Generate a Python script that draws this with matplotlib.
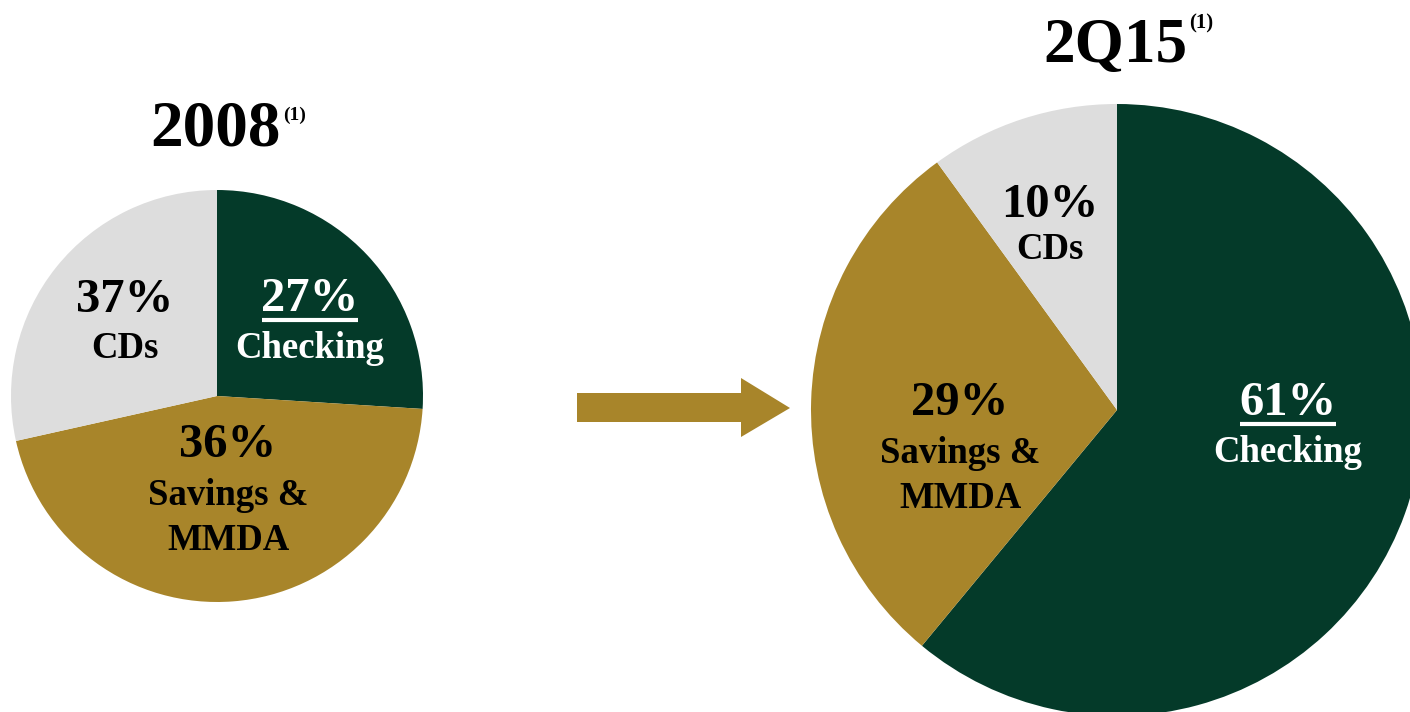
import matplotlib.pyplot as plt
from matplotlib.patches import Polygon

plt.rcParams['font.family'] = ['Liberation Serif', 'DejaVu Serif']

# data
categories = ["Checking", "Savings &\nMMDA", "CDs"]
labels_2008 = [27, 36, 37]
# the 2008 pie in the source is not drawn to its labels; these are the slice sizes as drawn
slices_2008 = [26, 45.5, 28.5]
share_2q15 = [61, 29, 10]
titles = ["2008", "2Q15"]
colors = ["#043a29", "#a8852a", "#dddddd"]
text_colors = ["white", "black", "black"]

W, H = 1410, 712
fig = plt.figure(figsize=(W / 100, H / 100), dpi=100)
ax = fig.add_axes([0, 0, 1, 1])

# pies (pixel coords, y flipped)
ax.pie(slices_2008, colors=colors, startangle=90, counterclock=False,
       center=(217, H - 396), radius=206, frame=True)
ax.pie(share_2q15, colors=colors, startangle=90, counterclock=False,
       center=(1117, H - 410), radius=306, frame=True)
ax.set_xlim(0, W)
ax.set_ylim(0, H)
ax.set_aspect("equal")
ax.axis("off")

# label anchors: (x center, baseline of pct, baseline of first name line)
left_pos = [(310, 311, 358), (228, 457, 505), (125, 312, 358)]
right_pos = [(1288, 415, 462), (960, 415, 463), (1050, 217, 259)]

underlines = []
for vals, pos in [(labels_2008, left_pos), (share_2q15, right_pos)]:
    for i, (v, (x, yp, yn)) in enumerate(zip(vals, pos)):
        t = ax.text(x, H - yp, f"{v}%", ha="center", va="baseline",
                    fontsize=35, fontweight="bold", color=text_colors[i])
        if i == 0:
            underlines.append((t, yp))
        for k, line in enumerate(categories[i].split("\n")):
            ax.text(x, H - (yn + 45 * k), line, ha="center", va="baseline",
                    fontsize=26.5, fontweight="bold", color=text_colors[i])

# titles with superscript: (x center, baseline, size, sup x, sup baseline, sup size)
title_pos = [(215.5, 145, 47, 283, 120, 14), (1115, 62, 45.5, 1189, 28, 15)]
for title, (x, y, size, sx, sy, ssize) in zip(titles, title_pos):
    ax.text(x, H - y, title, ha="center", va="baseline",
            fontsize=size, fontweight="bold", color="black")
    ax.text(sx, H - sy, "(1)", ha="left", va="baseline",
            fontsize=ssize, fontweight="bold", color="black")

# underline the checking percentages
fig.canvas.draw()
for t, yp in underlines:
    bb = t.get_window_extent().transformed(ax.transData.inverted())
    ax.plot([bb.x0 + 1, bb.x1 - 1], [H - yp - 9, H - yp - 9], color="white",
            lw=3, solid_capstyle="butt")

# arrow
arrow = Polygon([(577, H - 393), (741, H - 393), (741, H - 378), (790, H - 408),
                 (741, H - 437), (741, H - 422), (577, H - 422)],
                closed=True, color="#a8852a", lw=0)
ax.add_patch(arrow)

fig.savefig("out.png", dpi=100, facecolor="white")
